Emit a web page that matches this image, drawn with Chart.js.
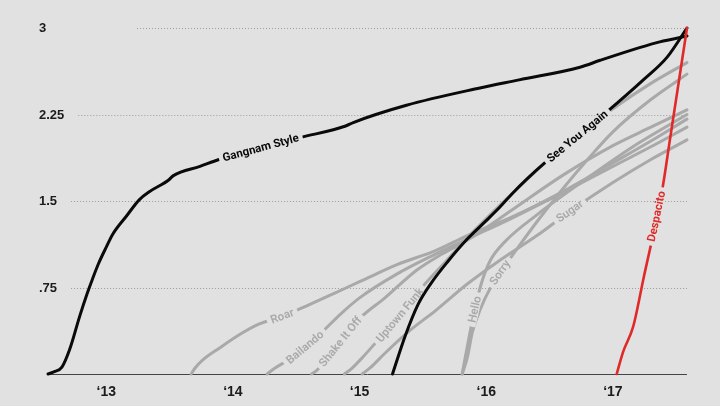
<!DOCTYPE html>
<html><head><meta charset="utf-8">
<script src="https://cdn.jsdelivr.net/npm/chart.js@4/dist/chart.umd.min.js"></script>
<style>html,body{margin:0;padding:0;background:#e1e1e1;overflow:hidden}</style>
</head><body>
<canvas id="c" width="720" height="406"></canvas>
<script>
// ---- data (x = year, y = views in billions) ----
const yTicks = [0.75, 1.5, 2.25, 3];
const yTickLabels = ['.75', '1.5', '2.25', '3'];
const xTicks = [2013, 2014, 2015, 2016, 2017];
const xTickLabels = ['‘13', '‘14', '‘15', '‘16', '‘17'];

const gangnamStyle = [[2012.54,0],[2012.59,0.02],[2012.65,0.06],[2012.71,0.21],[2012.79,0.50],[2012.85,0.70],[2012.89,0.82],[2012.94,0.96],[2013.0,1.10],[2013.05,1.21],[2013.16,1.37],[2013.26,1.51],[2013.34,1.58],[2013.49,1.68],[2013.53,1.72],[2013.74,1.80],[2013.89,1.86],[2014.22,1.96],[2014.53,2.05],[2014.89,2.15],[2014.95,2.18],[2015.37,2.33],[2015.95,2.48],[2016.26,2.55],[2016.74,2.66],[2016.90,2.72],[2017.21,2.83],[2017.37,2.88],[2017.585,2.93]];
const seeYouAgain = [[2015.26,0],[2015.36,0.33],[2015.46,0.6],[2015.56,0.78],[2015.7,0.98],[2015.85,1.17],[2016.0,1.33],[2016.11,1.45],[2016.21,1.57],[2016.32,1.69],[2016.45,1.82],[2016.72,2.06],[2016.95,2.27],[2017.24,2.55],[2017.43,2.75],[2017.585,3.0]];
const despacito = [[2017.03,0],[2017.08,0.19],[2017.16,0.41],[2017.24,0.82],[2017.39,1.60],[2017.45,2.03],[2017.585,3.0]];
const roar = [[2013.67,0],[2013.70,0.05],[2013.76,0.12],[2013.9,0.23],[2014.05,0.34],[2014.2,0.43],[2014.39,0.50],[2014.6,0.60],[2014.8,0.70],[2015.0,0.80],[2015.3,0.95],[2015.6,1.07],[2015.85,1.2],[2016.2,1.36],[2016.6,1.58],[2017.0,1.83],[2017.3,2.02],[2017.585,2.21]];
const bailando = [[2014.27,0],[2014.33,0.05],[2014.45,0.13],[2014.57,0.23],[2014.7,0.36],[2014.85,0.52],[2015.0,0.66],[2015.3,0.87],[2015.6,1.04],[2015.85,1.17],[2016.2,1.35],[2016.6,1.57],[2017.0,1.8],[2017.3,1.97],[2017.585,2.14]];
const shakeItOff = [[2014.62,0],[2014.66,0.03],[2014.72,0.1],[2014.85,0.28],[2015.0,0.48],[2015.2,0.66],[2015.45,0.9],[2015.65,1.04],[2015.85,1.16],[2016.2,1.42],[2016.6,1.72],[2017.0,1.98],[2017.3,2.14],[2017.585,2.29]];
const uptownFunk = [[2014.88,0],[2014.93,0.04],[2015.02,0.14],[2015.15,0.3],[2015.32,0.51],[2015.5,0.76],[2015.7,1.0],[2015.85,1.18],[2016.2,1.56],[2016.6,1.96],[2017.0,2.3],[2017.3,2.52],[2017.585,2.70]];
const sugar = [[2015.02,0],[2015.08,0.05],[2015.2,0.18],[2015.4,0.38],[2015.6,0.55],[2015.85,0.78],[2016.1,0.98],[2016.4,1.2],[2016.66,1.41],[2017.0,1.66],[2017.3,1.86],[2017.585,2.03]];
const hello = [[2015.81,0],[2015.83,0.12],[2015.87,0.35],[2015.91,0.56],[2015.96,0.78],[2016.03,0.98],[2016.15,1.15],[2016.4,1.38],[2016.8,1.7],[2017.2,2.0],[2017.585,2.25]];
const sorry = [[2015.81,0],[2015.85,0.14],[2015.89,0.36],[2015.96,0.58],[2016.03,0.74],[2016.11,0.88],[2016.24,1.08],[2016.4,1.32],[2016.6,1.6],[2016.8,1.86],[2017.0,2.1],[2017.3,2.38],[2017.585,2.6]];

// label name and anchor year for each series
const labelNames = ['Despacito','See You Again','Gangnam Style','Roar','Bailando','Shake It Off','Uptown Funk','Sugar','Hello','Sorry'];
const labelYears = [2017.345, 2016.72, 2014.22, 2014.39, 2014.57, 2014.85, 2015.32, 2016.66, 2015.91, 2016.11];

const BG = '#e1e1e1', GRAY = '#a9a9a9', BLACK = '#0a0a0a', RED = '#e02a2a';
const seriesList = [despacito, seeYouAgain, gangnamStyle, roar, bailando, shakeItOff, uptownFunk, sugar, hello, sorry];
const colors = [RED, BLACK, BLACK, GRAY, GRAY, GRAY, GRAY, GRAY, GRAY, GRAY];
const widths = [2.6, 3, 3, 3, 3, 3, 3, 3, 3, 3];

function interp(s, x) {
  if (x <= s[0][0]) return s[0][1];
  for (let i = 1; i < s.length; i++) {
    if (x <= s[i][0]) {
      const t = (x - s[i-1][0]) / (s[i][0] - s[i-1][0]);
      return s[i-1][1] + t * (s[i][1] - s[i-1][1]);
    }
  }
  return s[s.length-1][1];
}

function labelGeom(chart, i) {
  const {x, y} = chart.scales;
  const s = seriesList[i], yr = labelYears[i];
  const px = x.getPixelForValue(yr), py = y.getPixelForValue(interp(s, yr));
  const d = 0.03;
  const ax = x.getPixelForValue(yr - d), ay = y.getPixelForValue(interp(s, yr - d));
  const bx = x.getPixelForValue(yr + d), by = y.getPixelForValue(interp(s, yr + d));
  return {px, py, ang: Math.atan2(by - ay, bx - ax)};
}
function labelFont(i) {
  return (colors[i] === GRAY ? '600 ' : 'bold ') + '11.5px Roboto, "Liberation Sans", sans-serif';
}

const decor = {
  id: 'decor',
  beforeDatasetsDraw(chart) {
    const {ctx, chartArea, scales: {x, y}} = chart;
    ctx.save();
    ctx.font = 'bold 13px "Liberation Sans", Arial, sans-serif';
    ctx.textBaseline = 'middle';
    ctx.textAlign = 'left';
    yTicks.forEach((v, i) => {
      const py = Math.round(y.getPixelForValue(v)) + 0.5;
      ctx.fillStyle = '#1b1b1b';
      ctx.fillText(yTickLabels[i], 39, py);
      const w = ctx.measureText(yTickLabels[i]).width;
      const startX = (v === 3) ? 137 : 39 + w + 14;
      ctx.strokeStyle = '#9c9c9c';
      ctx.lineWidth = 1;
      ctx.setLineDash([1, 2]);
      ctx.beginPath(); ctx.moveTo(startX, py); ctx.lineTo(chartArea.right, py); ctx.stroke();
    });
    ctx.setLineDash([]);
    const by = Math.round(y.getPixelForValue(0)) + 0.5;
    ctx.strokeStyle = '#444';
    ctx.lineWidth = 1;
    ctx.beginPath(); ctx.moveTo(chartArea.left, by); ctx.lineTo(chartArea.right, by); ctx.stroke();
    ctx.textAlign = 'center';
    ctx.font = 'bold 14px "Liberation Sans", Arial, sans-serif';
    xTicks.forEach((v, i) => {
      ctx.fillStyle = '#1b1b1b';
      ctx.fillText(xTickLabels[i], x.getPixelForValue(v), 392);
    });
    ctx.restore();
  },
  // cut a gap in the series' own line right after it is drawn
  afterDatasetDraw(chart, args) {
    const i = args.index;
    const {ctx} = chart;
    const g = labelGeom(chart, i);
    ctx.save();
    ctx.translate(g.px, g.py);
    ctx.rotate(g.ang);
    ctx.font = labelFont(i);
    const w = ctx.measureText(labelNames[i]).width;
    ctx.fillStyle = BG;
    ctx.fillRect(-w / 2 - 4, -4.5, w + 8, 9);
    ctx.restore();
  },
  // text on top of everything
  afterDatasetsDraw(chart) {
    const {ctx} = chart;
    labelNames.forEach((name, i) => {
      const g = labelGeom(chart, i);
      ctx.save();
      ctx.translate(g.px, g.py);
      ctx.rotate(g.ang);
      ctx.font = labelFont(i);
      ctx.fillStyle = colors[i];
      ctx.textAlign = 'center';
      ctx.textBaseline = 'middle';
      ctx.fillText(name, 0, 0.5);
      ctx.restore();
    });
  }
};

new Chart(document.getElementById('c'), {
  type: 'line',
  data: {
    datasets: seriesList.map((s, i) => ({
      label: labelNames[i],
      data: s.map(p => ({x: p[0], y: p[1]})),
      borderColor: colors[i],
      borderWidth: widths[i],
      pointRadius: 0,
      cubicInterpolationMode: 'monotone',
      fill: false,
      clip: false,
      borderCapStyle: 'round'
    }))
  },
  options: {
    responsive: false,
    animation: false,
    devicePixelRatio: 1,
    layout: {padding: {left: 48, right: 33, top: 28, bottom: 32}},
    plugins: {legend: {display: false}, tooltip: {enabled: false}},
    scales: {
      x: {type: 'linear', min: 2012.54, max: 2017.585, display: false},
      y: {type: 'linear', min: 0, max: 3, display: false}
    }
  },
  plugins: [decor]
});
</script>
</body></html>
